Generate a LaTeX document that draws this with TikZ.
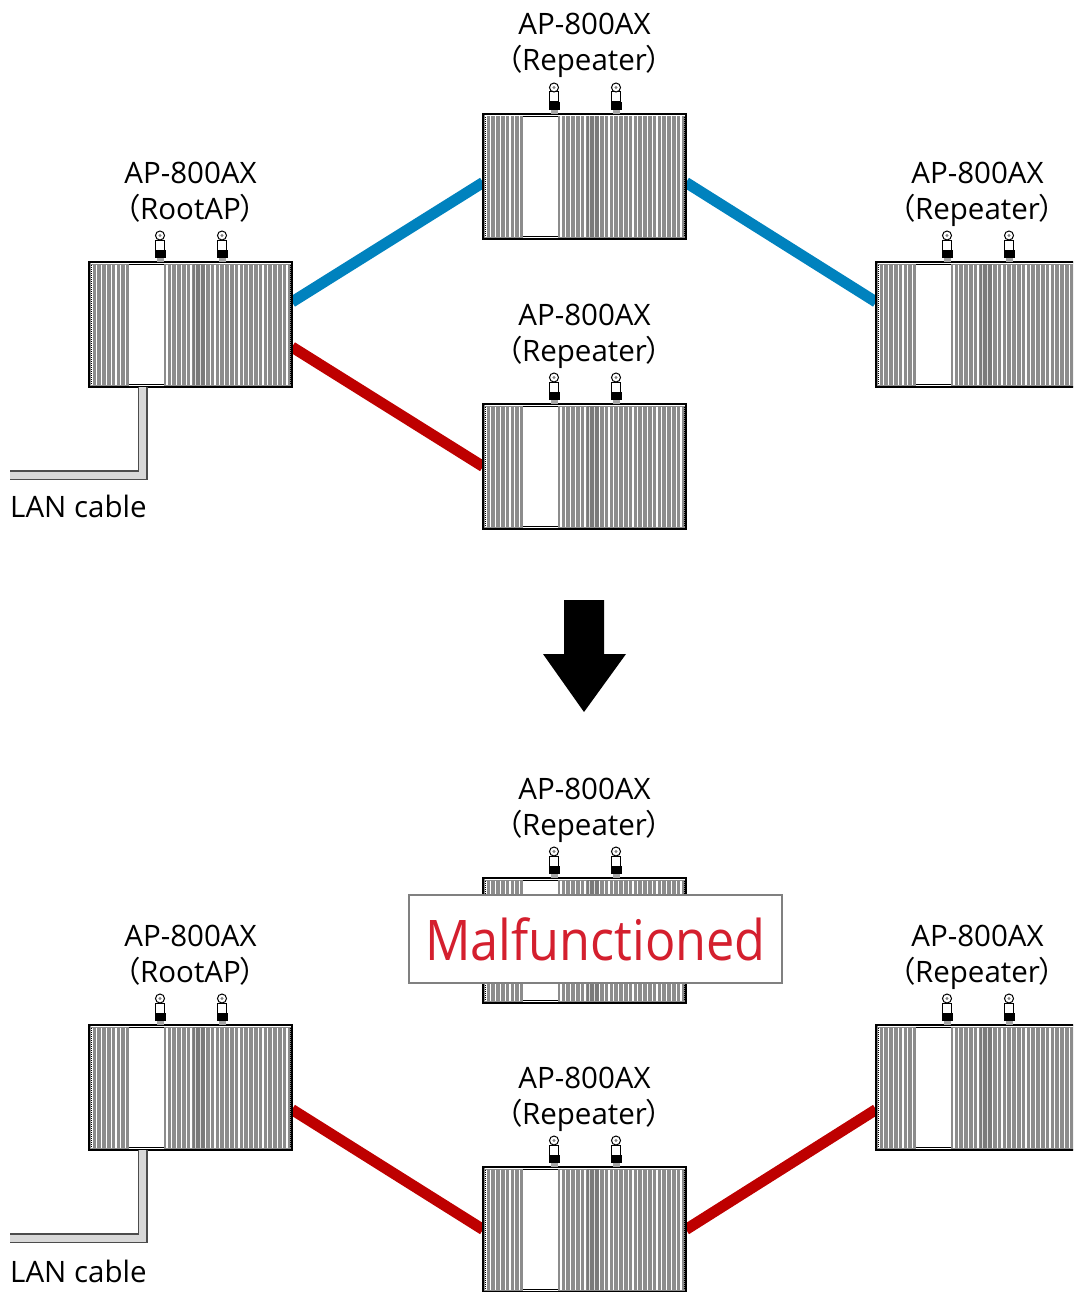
\documentclass[tikz,border=0pt]{standalone}
\usepackage{fontspec}
\setmainfont{Open Sans}
\newfontfamily\cjk{Noto Sans CJK JP}[RawFeature={+palt}]
\newfontfamily\narrowsans{Open Sans}[FakeStretch=0.9]
\usetikzlibrary{calc}

\pgfdeclarelayer{bg}
\pgfsetlayers{bg,main}

\definecolor{fingray}{RGB}{140,140,140}
\definecolor{linkblue}{RGB}{0,130,190}
\definecolor{linkred}{RGB}{190,0,0}
\definecolor{alertred}{RGB}{212,31,46}
\definecolor{cablegray}{RGB}{216,216,216}

\newcommand\fwparen[1]{{\cjk （}#1{\cjk ）}}

\tikzset{
  lbl/.style={anchor=base, inner sep=0pt, font=\fontsize{29.5}{36}\selectfont},
  link/.style={line width=11pt},
  % one access point seen from the front, origin at the top-left corner
  apdev/.pic={
    \fill[fingray] (0,0) rectangle (203,125);
    \foreach \x in {3,7.8,...,38} \draw[white, line width=1.2pt] (\x,2.5) -- (\x,122.5);
    \foreach \x in {78,82.8,...,201} \draw[white, line width=1.2pt] (\x,2.5) -- (\x,122.5);
    \fill[black, opacity=0.12] (104,2) rectangle (116,123);
    \fill[white] (40,1.5) rectangle (75,123.5);
    \draw[line width=1.6pt] (40,2.5) -- (75,2.5) (40,122.5) -- (75,122.5);
    \draw[white, line width=0.8pt] (1.5,1.8) -- (201.5,1.8);
    \draw[black, line width=0.6pt, dash pattern=on 1pt off 1pt] (2.2,3) -- (2.2,122) (200.8,3) -- (200.8,122);
    \node[draw, line width=1.5pt, minimum width=203pt, minimum height=125pt,
          inner sep=0pt, outer sep=0pt, anchor=north west] (-box) at (0,0) {};
    \foreach \a in {71,133} {
      \fill[gray!70] (\a-3.5,-4) rectangle (\a+3.5,0);
      \fill[black] (\a-5.5,-12) rectangle (\a+5.5,-4);
      \draw[fill=white, line width=1pt] (\a-4.5,-22) rectangle (\a+4.5,-12);
      \draw[fill=white, line width=1pt] (\a,-26.5) circle (4.5);
      \fill[gray] (\a,-26.5) circle (1.6);
    }
  }
}

\newcommand\aplabel[2]{%
  \node[lbl] (#1-l1) at ([yshift=79pt]#1-box.north) {AP-800AX};
  \node[lbl] (#1-l2) at ([yshift=43pt]#1-box.north) {\fwparen{#2}};
}

\begin{document}
\begin{tikzpicture}[x=1pt, y=-1pt]
\useasboundingbox (0,0) rectangle (1073,1292);
\clip (0,0) rectangle (1073,1292);

% ---------- before ----------
\pic (r1)  at (89,262)  {apdev};
\pic (t1)  at (483,114) {apdev};
\pic (rt1) at (876,262) {apdev};
\pic (m1)  at (483,404) {apdev};

\aplabel{r1}{RootAP}
\aplabel{t1}{Repeater}
\aplabel{rt1}{Repeater}
\aplabel{m1}{Repeater}

\begin{pgfonlayer}{bg}
  \draw[link, linkblue] ([yshift=22.5pt]r1-box.east) -- ([yshift=-6pt]t1-box.west);
  \draw[link, linkblue] ([yshift=-6pt]t1-box.east) -- ([yshift=22.5pt]rt1-box.west);
  \draw[link, linkred] ([yshift=-22.5pt]r1-box.east) -- (m1-box.west);
\end{pgfonlayer}

% LAN cable to the root AP
\coordinate (lan1) at (10,475);
\draw[line width=10pt, gray!60!black] ([xshift=-48pt]r1-box.south) |- (lan1);
\draw[line width=7pt, cablegray] ([xshift=-48pt]r1-box.south) |- (lan1);
\node[lbl, anchor=base west] (lan1-t) at (10,517) {LAN cable};

% ---------- transition arrow ----------
\fill (564,600) -- (604,600) -- (604,654) -- (626,654) -- (584,712)
      -- (543,654) -- (564,654) -- cycle;

% ---------- after ----------
\pic (r2)  at (89,1025)  {apdev};
\pic (t2)  at (483,878)  {apdev};
\pic (rt2) at (876,1025) {apdev};
\pic (m2)  at (483,1167) {apdev};

\aplabel{r2}{RootAP}
\aplabel{t2}{Repeater}
\aplabel{rt2}{Repeater}
\aplabel{m2}{Repeater}

\node[draw=gray, line width=1.5pt, fill=white, minimum width=373pt, minimum height=88pt,
      inner sep=0pt, text=alertred, font=\narrowsans\fontsize{56}{60}\selectfont]
      (mal) at (595.5,939) {Malfunctioned};

\begin{pgfonlayer}{bg}
  \draw[link, linkred] ([yshift=-22pt]r2-box.east) -- (m2-box.west);
  \draw[link, linkred] (m2-box.east) -- ([yshift=-22pt]rt2-box.west);
\end{pgfonlayer}

\coordinate (lan2) at (10,1238);
\draw[line width=10pt, gray!60!black] ([xshift=-48pt]r2-box.south) |- (lan2);
\draw[line width=7pt, cablegray] ([xshift=-48pt]r2-box.south) |- (lan2);
\node[lbl, anchor=base west] (lan2-t) at (10,1282) {LAN cable};
\end{tikzpicture}
\end{document}
